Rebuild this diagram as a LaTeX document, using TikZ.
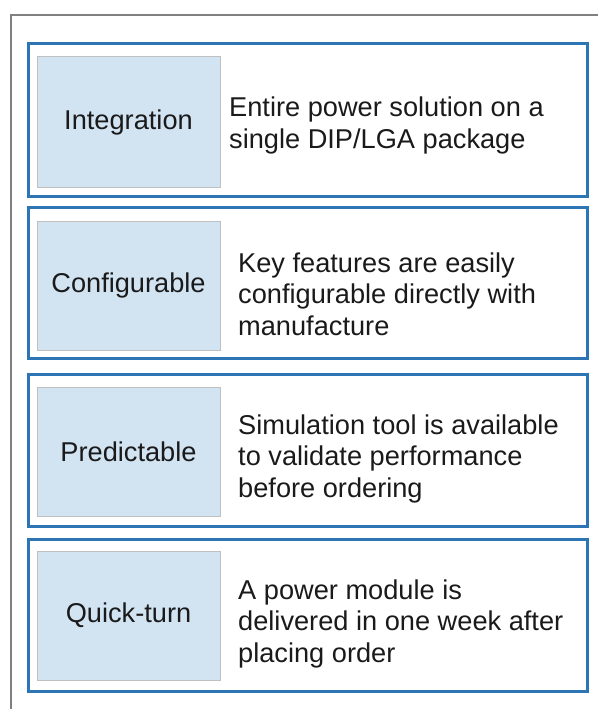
\documentclass[tikz,border=0pt]{standalone}
\usepackage{fontspec}
\setmainfont{Liberation Sans}
\definecolor{boxblue}{HTML}{2E75B6}
\definecolor{lightfill}{HTML}{D2E3F2}
\definecolor{innergray}{HTML}{C0C0C0}
\definecolor{framegray}{HTML}{808080}
\definecolor{txt}{HTML}{1A1A1A}
\tikzset{
  outerbox/.style={draw=boxblue, line width=3pt, minimum width=559pt, inner sep=0pt},
  labelbox/.style={draw=innergray, line width=1pt, fill=lightfill, minimum width=183pt, inner sep=0pt,
    font=\fontsize{27.2pt}{31.5pt}\selectfont, text=txt},
  desc/.style={anchor=base west, align=left, inner sep=0pt, font=\fontsize{27.2pt}{31.5pt}\selectfont, text=txt}
}
\begin{document}
\begin{tikzpicture}[x=1pt,y=-1pt]
\useasboundingbox (0,0) rectangle (598,709);
\draw[framegray, line width=1.5pt] (598,15) -- (11,15) -- (11,709);
% boxes
\node[outerbox, minimum height=152pt] (b1) at (307.5,120) {};
\node[outerbox, minimum height=151pt] (b2) at (307.5,282.5) {};
\node[outerbox, minimum height=152pt] (b3) at (307.5,450) {};
\node[outerbox, minimum height=152pt] (b4) at (307.5,615) {};
\node[labelbox, minimum height=131pt] (l1) at (128.5,122) {Integration};
\node[labelbox, minimum height=129pt] (l2) at (128.5,285.5) {Configurable};
\node[labelbox, minimum height=129pt] (l3) at (128.5,451.5) {Predictable};
\node[labelbox, minimum height=129pt] (l4) at (128.5,615.5) {Quick-turn};
\node[desc] (d1) at (229,148) {Entire power solution on a\\single DIP/LGA package};
\node[desc] (d2) at (238,335) {Key features are easily\\configurable directly with\\manufacture};
\node[desc] (d3) at (238,497) {Simulation tool is available\\to validate performance\\before ordering};
\node[desc] (d4) at (238,662) {A power module is\\delivered in one week after\\placing order};
\end{tikzpicture}
\end{document}
